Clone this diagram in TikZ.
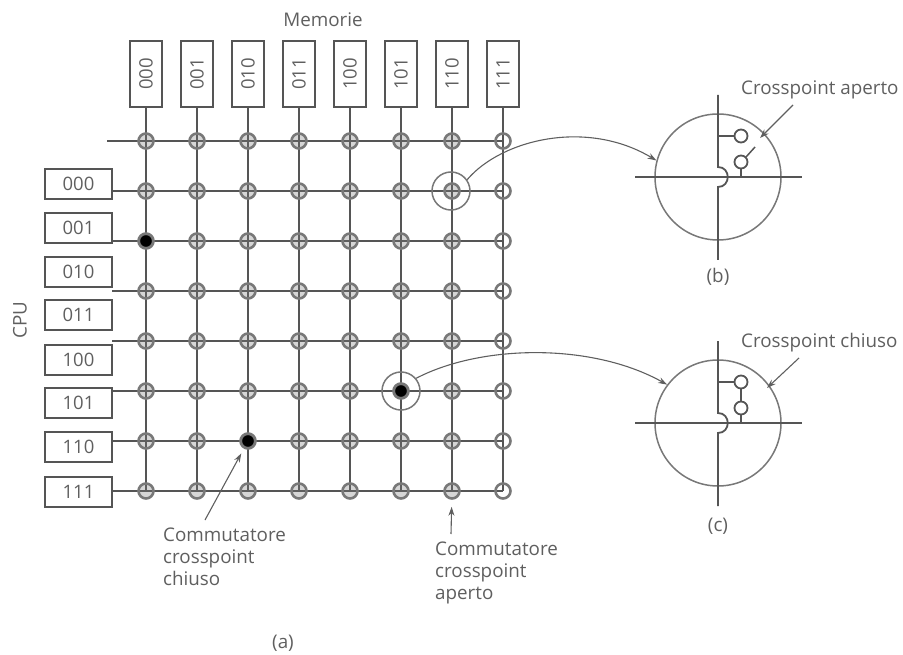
\documentclass[tikz,border=0pt]{standalone}
\usepackage{fontspec}
\setmainfont{Open Sans}
\usetikzlibrary{arrows.meta,positioning,calc,backgrounds}
\definecolor{wire}{RGB}{85,85,85}
\definecolor{ringgray}{RGB}{120,120,120}
\definecolor{inkgray}{RGB}{95,95,95}
\tikzset{
  txt/.style={text=inkgray,font=\fontsize{18.8}{22}\selectfont,inner sep=0pt},
  bitbox/.style={draw=wire,line width=1.8pt,text=inkgray,font=\fontsize{18.5}{20}\selectfont,inner sep=0pt},
  xopen/.style={circle,draw=ringgray,fill=ringgray,fill opacity=0.3,line width=2.6pt,minimum size=15pt,inner sep=0pt},
  xshut/.style={circle,draw=ringgray,fill=black,line width=1.2pt,minimum size=13pt,inner sep=0pt},
  wireline/.style={wire,line width=1.8pt},
  pointer/.style={inkgray,line width=1.1pt,-{Stealth[length=9pt,width=6pt]}},
  lens/.style={circle,draw=ringgray,line width=1.5pt,inner sep=0pt}
}
\begin{document}
\begin{tikzpicture}[x=1pt,y=-1pt]
  \useasboundingbox (0,0) rectangle (903,655);
  % crossbar
  \foreach \c in {0,...,6}
    \foreach \r in {0,...,7}
      \node[xopen] (xp-\c-\r) at ({146+51*\c},{141+50*\r}) {};
  \foreach \r in {0,...,7} \node[xopen,fill=none] (xp-7-\r) at (503,{141+50*\r}) {};
  \node[xshut] (xp-0-2) at (146,241) {};
  \node[xshut] (xp-2-6) at (248,441) {};
  \node[xshut] (xp-5-5) at (401,391) {};
  % memories, top row
  \foreach \t [count=\c from 0] in {000,001,010,011,100,101,110,111} {
    \node[bitbox,minimum width=32pt,minimum height=66pt] (mem\t) at ({146+51*\c},74) {\rotatebox{90}{\t}};
    \begin{pgfonlayer}{background}
      \draw[wireline] (mem\t.south) -- (xp-\c-7.center);
    \end{pgfonlayer}
  }
  % cpus, left column
  \foreach \t/\y in {000/184,001/228,010/272,011/315,100/360,101/403,110/447,111/492}
    \node[bitbox,minimum width=67pt,minimum height=30pt] (cpu\t) at (78.5,\y) {\t};
  \coordinate (rowstart0) at (107,141);
  \foreach \r in {1,...,7} \coordinate (rowstart\r) at (112,{141+50*\r});
  \begin{pgfonlayer}{background}
    \foreach \r in {0,...,7} \draw[wireline] (rowstart\r) -- (xp-7-\r.center);
  \end{pgfonlayer}
  % rings and curved arrows
  \node[lens,minimum size=38pt] (ringb) at (451,191) {};
  \node[lens,minimum size=38pt] (ringc) at (401,391) {};
  \node[lens,minimum size=126pt] (lensb) at (718,177) {};
  \node[lens,minimum size=126pt] (lensc) at (718,423) {};
  \draw[pointer] (ringb.35) .. controls +(34,-40) and +(-70,-42) .. (lensb.165);
  \draw[pointer] (ringc.40) .. controls +(65,-34) and +(-75,-42) .. (lensc.143);
  % close-ups
  \foreach \n/\y in {b/177,c/423} {
    \coordinate (top\n) at (718,\y-82);
    \coordinate (hopin\n) at (718,\y-10);
    \coordinate (hopout\n) at (718,\y+10);
    \coordinate (bot\n) at (718,\y+83);
    \coordinate (lineL\n) at (635,\y);
    \coordinate (lineR\n) at (802,\y);
    \coordinate (tap\n) at (718,\y-41);
    \coordinate (foot\n) at (741,\y);
    \node[circle,draw=wire,line width=1.8pt,minimum size=13pt,inner sep=0pt] (upper\n) at (741,\y-41) {};
    \node[circle,draw=wire,line width=1.8pt,minimum size=13pt,inner sep=0pt] (lower\n) at (741,\y-15) {};
    \draw[wireline] (lineL\n) -- (lineR\n);
    \draw[wireline] (top\n) -- (hopin\n) .. controls +(13,0) and +(13,0) .. (hopout\n) -- (bot\n);
    \draw[wire,line width=1.5pt] (tap\n) -- (upper\n);
    \draw[wire,line width=1.5pt] (lower\n) -- (foot\n);
  }
  \coordinate (armb) at (755,147);
  \draw[wire,line width=1.5pt] (lowerb.45) -- (armb);
  \draw[wire,line width=1.5pt] (lowerc) -- (upperc);
  % labels
  \node[txt] (memlabel) at (323,20) {Memorie};
  \node[txt,rotate=90] (cpulabel) at (20,320) {CPU};
  \node[txt,anchor=west] (labelb) at (741,90) {Crosspoint aperto};
  \node[txt,anchor=west] (labelc) at (741,343) {Crosspoint chiuso};
  \node[txt] (capb) at (718,277) {(b)};
  \node[txt] (capc) at (718,526) {(c)};
  \node[txt] (capa) at (283,643) {(a)};
  \node[txt,anchor=north west,align=left] (shutlabel) at (163,528) {Commutatore\\crosspoint\\chiuso};
  \node[txt,anchor=north west,align=left] (openlabel) at (435,542) {Commutatore\\crosspoint\\aperto};
  \coordinate (tipb) at (760,138);
  \coordinate (tipc) at (767,388);
  \coordinate (tailb) at (793,105);
  \coordinate (tailc) at (799,358);
  \coordinate (tailshut) at (205,520);
  \coordinate (tailopen) at (451,534);
  \draw[pointer] (tailb) -- (tipb);
  \draw[pointer] (tailc) -- (tipc);
  \draw[pointer,shorten >=7pt] (tailshut) -- (xp-2-6);
  \draw[pointer,shorten >=7pt] (tailopen) -- (xp-6-7);
\end{tikzpicture}
\end{document}
